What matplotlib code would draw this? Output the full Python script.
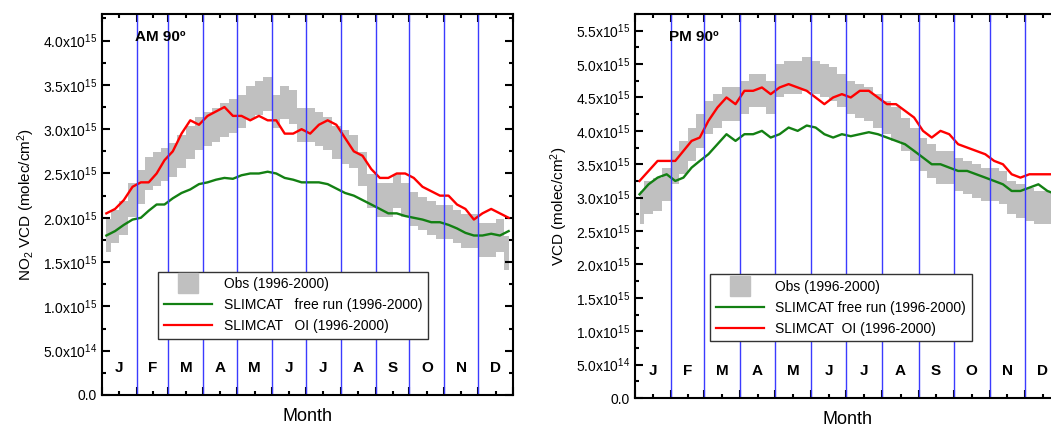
import numpy as np
import matplotlib
matplotlib.use("Agg")
import matplotlib.pyplot as plt
from matplotlib.ticker import FuncFormatter, MultipleLocator, FixedLocator
from matplotlib.lines import Line2D

plt.rcParams['font.family'] = ['Liberation Sans', 'DejaVu Sans']
plt.rcParams['mathtext.fontset'] = 'custom'
plt.rcParams['mathtext.rm'] = 'Liberation Sans'
plt.rcParams['mathtext.default'] = 'regular'

months = ['J', 'F', 'M', 'A', 'M', 'J', 'J', 'A', 'S', 'O', 'N', 'D']
month_start = [0, 31, 59, 90, 120, 151, 181, 212, 243, 273, 304, 334, 365]
# 4 samples per month, values in 1e15 molec/cm2
am_oi = [2.05, 2.1, 2.2, 2.35, 2.4, 2.4, 2.5, 2.65, 2.75, 2.95, 3.1, 3.05,
         3.15, 3.2, 3.25, 3.15, 3.15, 3.1, 3.15, 3.1, 3.1, 2.95, 2.95, 3.0,
         2.95, 3.05, 3.1, 3.05, 2.9, 2.75, 2.7, 2.55, 2.45, 2.45, 2.5, 2.5,
         2.45, 2.35, 2.3, 2.25, 2.25, 2.15, 2.1, 1.98, 2.05, 2.1, 2.05, 2.0]
am_free = [1.8, 1.85, 1.92, 1.98, 2.0, 2.08, 2.15, 2.15, 2.22, 2.28, 2.32, 2.38,
           2.4, 2.43, 2.45, 2.44, 2.48, 2.5, 2.5, 2.52, 2.5, 2.45, 2.43, 2.4,
           2.4, 2.4, 2.38, 2.33, 2.28, 2.25, 2.2, 2.15, 2.1, 2.05, 2.05, 2.02,
           2.0, 1.98, 1.95, 1.95, 1.92, 1.88, 1.83, 1.8, 1.8, 1.82, 1.8, 1.85]
am_obs = [1.8, 1.9, 2.0, 2.2, 2.35, 2.5, 2.55, 2.6, 2.65, 2.75, 2.85, 2.95,
          3.0, 3.05, 3.1, 3.15, 3.2, 3.3, 3.35, 3.4, 3.2, 3.3, 3.25, 3.05,
          3.05, 3.0, 2.95, 2.85, 2.8, 2.75, 2.55, 2.3, 2.2, 2.2, 2.3, 2.2,
          2.1, 2.05, 2.0, 1.95, 1.95, 1.9, 1.85, 1.85, 1.75, 1.75, 1.8, 1.6]
pm_oi = [3.25, 3.4, 3.55, 3.55, 3.55, 3.7, 3.85, 3.9, 4.15, 4.35, 4.5, 4.4,
         4.6, 4.6, 4.65, 4.55, 4.65, 4.7, 4.65, 4.6, 4.5, 4.4, 4.5, 4.55,
         4.5, 4.6, 4.6, 4.5, 4.4, 4.4, 4.3, 4.2, 4.0, 3.9, 4.0, 3.95,
         3.8, 3.75, 3.7, 3.65, 3.55, 3.5, 3.35, 3.3, 3.35, 3.35, 3.35, 3.35]
pm_free = [3.05, 3.2, 3.3, 3.35, 3.25, 3.3, 3.45, 3.55, 3.65, 3.8, 3.95, 3.85,
           3.95, 3.95, 4.0, 3.9, 3.95, 4.05, 4.0, 4.08, 4.05, 3.95, 3.9, 3.95,
           3.92, 3.95, 3.98, 3.95, 3.9, 3.85, 3.8, 3.7, 3.6, 3.5, 3.5, 3.45,
           3.4, 3.4, 3.35, 3.3, 3.25, 3.2, 3.1, 3.1, 3.15, 3.2, 3.1, 3.05]
pm_obs = [2.85, 3.0, 3.05, 3.2, 3.45, 3.6, 3.8, 4.0, 4.2, 4.3, 4.4, 4.4,
          4.5, 4.6, 4.6, 4.5, 4.75, 4.8, 4.8, 4.85, 4.8, 4.75, 4.7, 4.6,
          4.5, 4.45, 4.4, 4.3, 4.2, 4.1, 3.95, 3.8, 3.65, 3.55, 3.45, 3.45,
          3.35, 3.3, 3.25, 3.2, 3.2, 3.15, 3.0, 2.95, 2.9, 2.85, 2.85, 2.85]

days = []
for m in range(12):
    w = (month_start[m + 1] - month_start[m]) / 4
    for k in range(4):
        days.append(month_start[m] + w * (k + 0.5))
days = np.array(days)


def fmt(v, pos):
    if v <= 1e10:
        return '0.0'
    e = int(np.floor(np.log10(v) + 1e-9))
    return '%.1fx10$^{%d}$' % (v / 10**e, e)


fig = plt.figure(figsize=(10.51, 4.26), dpi=100)
panels = [
    ([102/1051, 31/426, 411/1051, 381/426], am_obs, am_free, am_oi, 0.19, 4.3,
     'AM 90º', 'NO$_2$ VCD (molec/cm$^2$)', 'SLIMCAT   free run (1996-2000)',
     'SLIMCAT   OI (1996-2000)', (0.12, 0.13)),
    ([635/1051, 28/426, 426/1051, 384/426], pm_obs, pm_free, pm_oi, 0.25, 5.75,
     'PM 90º', 'VCD (molec/cm$^2$)', 'SLIMCAT free run (1996-2000)',
     'SLIMCAT  OI (1996-2000)', (0.16, 0.13)),
]
for rect, obs, free, oi, hw, ytop, title, ylab, lfree, loi, lpos in panels:
    ax = fig.add_axes(rect)
    obs = np.array(obs) * 1e15
    ax.fill_between(days, obs - hw * 1e15, obs + hw * 1e15, step='mid',
                    color='#c0c0c0', lw=0)
    ax.plot(days, np.array(free) * 1e15, color='#138013', lw=1.7)
    ax.plot(days, np.array(oi) * 1e15, color='#ff0000', lw=1.7)
    for d in month_start[1:-1]:
        ax.axvline(d, color='#3b3bff', lw=1.0)
    for m in range(12):
        ax.text((month_start[m] + month_start[m + 1]) / 2, 0.3e15 * ytop / 4.3,
                months[m], ha='center', va='center', fontsize=11, fontweight='bold')
    ax.text(0.08, 0.94, title, transform=ax.transAxes, fontsize=11,
            fontweight='bold', va='center')
    ax.set_xlim(0, 365)
    ax.set_ylim(0, ytop * 1e15)
    ax.xaxis.set_major_locator(FixedLocator(month_start))
    ax.xaxis.set_minor_locator(FixedLocator([(month_start[i] + month_start[i + 1]) / 2 for i in range(12)]))
    ax.xaxis.set_major_formatter(FuncFormatter(lambda v, p: ''))
    ax.yaxis.set_major_locator(MultipleLocator(0.5e15))
    ax.yaxis.set_minor_locator(MultipleLocator(0.25e15))
    ax.yaxis.set_major_formatter(FuncFormatter(fmt))
    ax.tick_params(which='both', direction='in', top=True, right=True, width=1.5,
                   labelsize=10)
    ax.tick_params(which='major', length=6)
    ax.tick_params(which='minor', length=3)
    for s in ax.spines.values():
        s.set_linewidth(1.5)
    ax.set_xlabel('Month', fontsize=13, labelpad=6)
    ax.set_ylabel(ylab, fontsize=11)
    handles = [Line2D([], [], marker='s', color='#c0c0c0', ls='none', markersize=14),
               Line2D([], [], color='#138013', lw=1.6),
               Line2D([], [], color='#ff0000', lw=1.6)]
    leg = ax.legend(handles, ['Obs (1996-2000)', lfree, loi], loc='lower left',
                    bbox_to_anchor=lpos, fontsize=10, fancybox=False,
                    edgecolor='#333333', framealpha=1, handlelength=3.5)
    leg.get_frame().set_linewidth(1.0)

fig.savefig('out.png', dpi=100)
